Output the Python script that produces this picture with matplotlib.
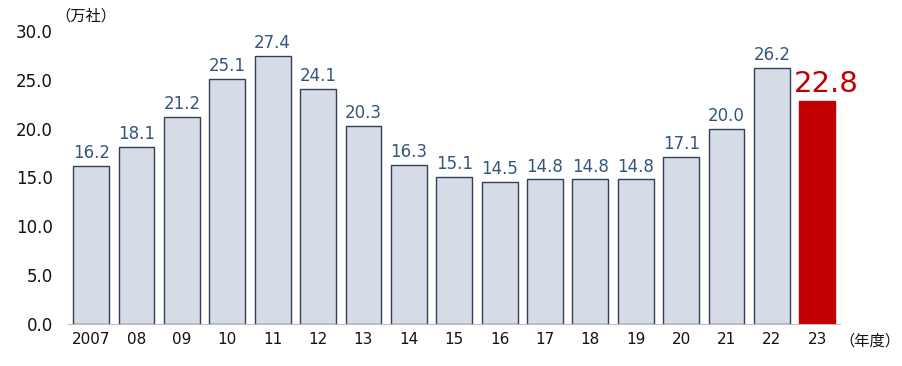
import matplotlib.pyplot as plt
import numpy as np

plt.rcParams['font.family'] = ['DejaVu Sans', 'Noto Sans CJK JP']

# data
years = ['2007', '08', '09', '10', '11', '12', '13', '14', '15', '16',
         '17', '18', '19', '20', '21', '22', '23']
values = [16.2, 18.1, 21.2, 25.1, 27.4, 24.1, 20.3, 16.3, 15.1, 14.5,
          14.8, 14.8, 14.8, 17.1, 20.0, 26.2, 22.8]
yticks = [0, 5, 10, 15, 20, 25, 30]

fig = plt.figure(figsize=(9.03, 3.66), dpi=100)
ax = fig.add_axes([68/903, 1-324/366, (840-68)/903, (324-31)/366])

x = np.arange(len(values))
colors = ['#D6DCE5'] * (len(values) - 1) + ['#C00000']
edges = ['#2F3F5A'] * (len(values) - 1) + ['#C00000']
ax.bar(x, values, width=0.79, color=colors, edgecolor=edges, linewidth=1.0)

for i, v in enumerate(values):
    if i == len(values) - 1:
        ax.text(i + 0.2, v + 0.3, f'{v:.1f}', ha='center', va='bottom',
                fontsize=21, color='#C00000')
    else:
        ax.text(i, v + 0.4, f'{v:.1f}', ha='center', va='bottom',
                fontsize=12, color='#34567D')

ax.set_xlim(-0.51, 16.5)
ax.set_ylim(0, 30)
ax.set_xticks(x)
ax.set_xticklabels(years, fontsize=11)
ax.set_yticks(yticks)
ax.set_yticklabels([f'{t:.1f}' for t in yticks], fontsize=12)
ax.tick_params(axis='both', length=0, colors='#111111')
ax.tick_params(axis='y', pad=11)
ax.tick_params(axis='x', pad=6)
for s in ['top', 'right', 'left']:
    ax.spines[s].set_visible(False)
ax.spines['bottom'].set_color('#BFBFBF')

fig.text(55/903, 1-16/366, '（万社）', fontsize=11, va='center', ha='left', color='#111111')
fig.text(900/903, 1-341/366, '（年度）', fontsize=11, va='center', ha='right', color='#111111')

fig.savefig('out.png', dpi=100)
